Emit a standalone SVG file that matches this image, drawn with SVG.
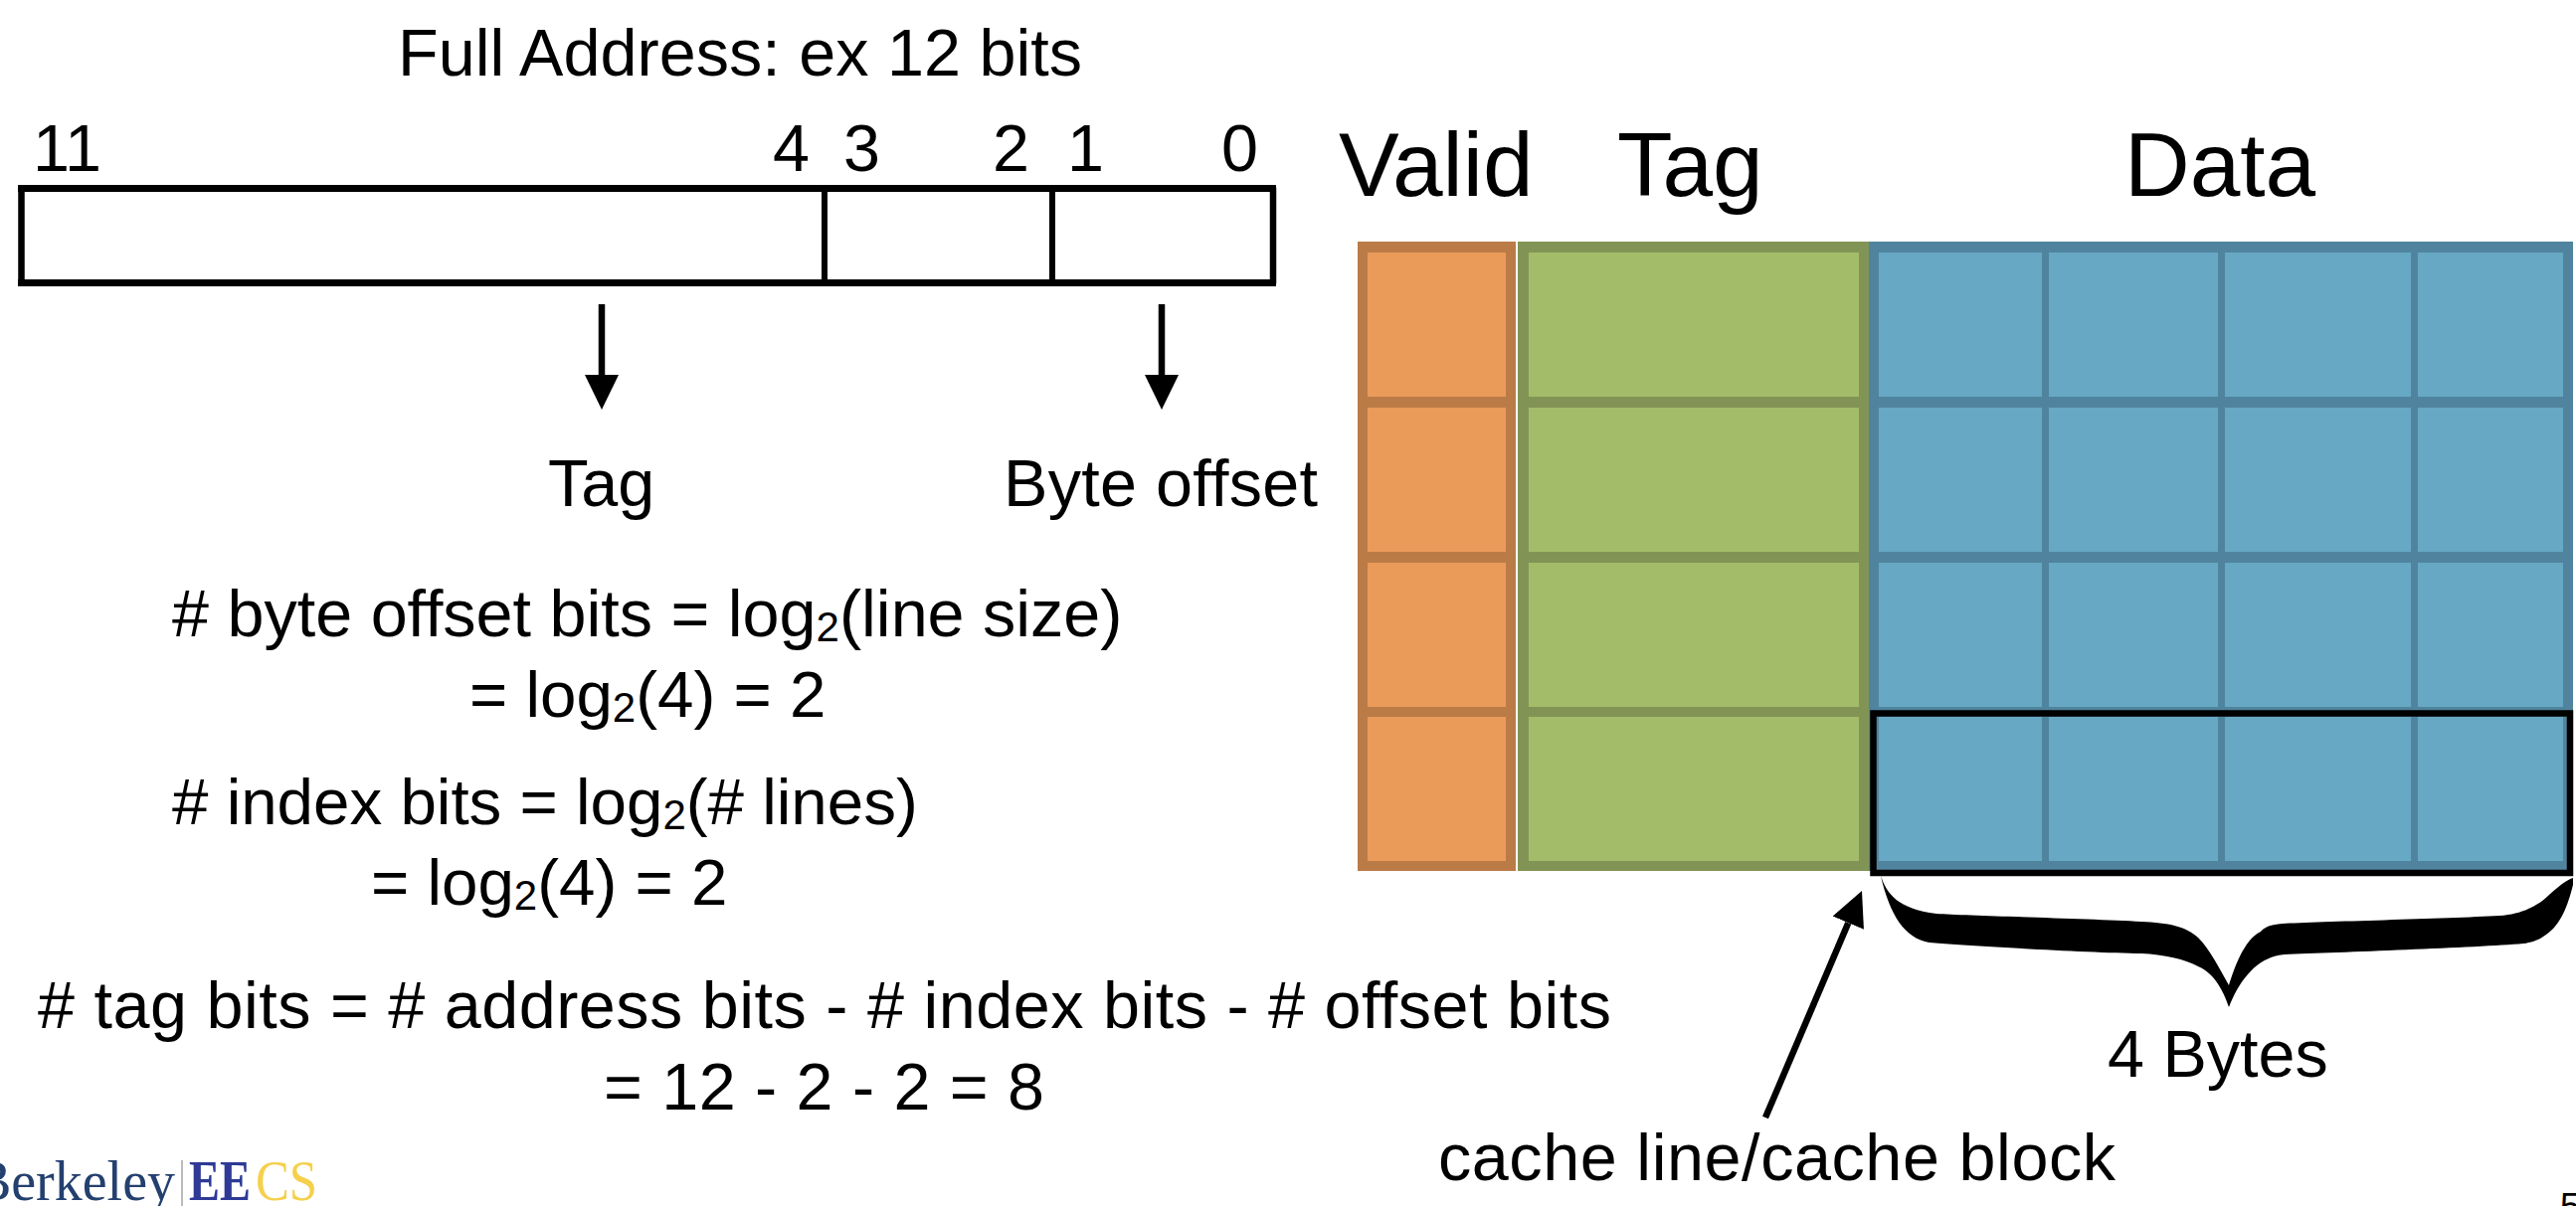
<svg xmlns="http://www.w3.org/2000/svg" width="2590" height="1213" viewBox="0 0 2590 1213">
<style>
text{font-family:"Liberation Sans",Arial,Helvetica,sans-serif;fill:#000}
.t{font-size:66.5px}
.f{font-size:65.5px}
.h{font-size:91px}
.s{font-size:42px}
.o0{fill:#bb7b47}.o1{fill:#ea9b5a}
.g0{fill:#829455}.g1{fill:#a3bc6a}
.b0{fill:#50849e}.b1{fill:#67a8c4}
.box{fill:none;stroke:#000;stroke-width:6.5}
.div{stroke:#000;stroke-width:6}
.arrow{stroke:#000;stroke-width:6.5;marker-end:url(#ah)}
.logo{font-family:"Liberation Serif",serif;font-size:56px}
</style>
<defs>
<marker id="ah" markerUnits="userSpaceOnUse" markerWidth="36" markerHeight="36" refX="0" refY="18" orient="auto"><path d="M0,1L35,18L0,35Z" fill="#000"/></marker>
<g id="oc"><rect x="1375" y="0" width="139" height="145" class="o1"/></g>
<g id="gc"><rect x="1537" y="0" width="332" height="145" class="g1"/></g>
<g id="bc"><rect x="1889" y="0" width="164" height="145" class="b1"/><rect x="2060" y="0" width="170" height="145" class="b1"/><rect x="2237" y="0" width="187" height="145" class="b1"/><rect x="2431" y="0" width="146" height="145" class="b1"/></g>
</defs>
<rect width="2590" height="1213" fill="#fff"/>
<g id="address-title"><text class="t" x="400" y="76" textLength="688">Full Address: ex 12 bits</text></g>
<g id="bit-numbers">
<text class="t" x="33" y="172">11</text>
<text class="t" x="777" y="172">4</text>
<text class="t" x="848" y="172">3</text>
<text class="t" x="998" y="172">2</text>
<text class="t" x="1073" y="172">1</text>
<text class="t" x="1228" y="172">0</text>
</g>
<g id="address-box">
<path class="box" d="M21.500 189.500H1280V284.500H21.500Z" stroke-linejoin="round"/>
<path class="box" d="M18 189.500H1283M18 284.500H1283" style="stroke-width:7"/>
<line class="div" x1="829" y1="193" x2="829" y2="283"/>
<line class="div" x1="1058" y1="193" x2="1058" y2="283"/>
</g>
<g id="connectors">
<line class="arrow" x1="605" y1="306" x2="605" y2="377"/>
<line class="arrow" x1="1168" y1="306" x2="1168" y2="377"/>
<line class="arrow" x1="1775" y1="1124" x2="1858.300" y2="928.200"/>
</g>
<g id="field-labels">
<text class="t" x="551" y="509">Tag</text>
<text class="t" x="1009" y="509" textLength="316">Byte offset</text>
</g>
<g id="formulas">
<text class="t" x="173" y="639.500"># byte offset bits = log<tspan class="s" dy="5">2</tspan><tspan dy="-5">(line size)</tspan></text>
<text class="f" x="472" y="720.500">= log<tspan class="s" dy="5">2</tspan><tspan dy="-5">(4) = 2</tspan></text>
<text class="f" x="173" y="829"># index bits = log<tspan class="s" dy="5">2</tspan><tspan dy="-5">(# lines)</tspan></text>
<text class="f" x="373" y="910">= log<tspan class="s" dy="5">2</tspan><tspan dy="-5">(4) = 2</tspan></text>
<text class="t" x="38" y="1034" textLength="1582"># tag bits = # address bits - # index bits - # offset bits</text>
<text class="t" x="607" y="1116" textLength="443">= 12 - 2 - 2 = 8</text>
</g>
<g id="cache-headers">
<text class="h" x="1346" y="197">Valid</text>
<text class="h" x="1626" y="197">Tag</text>
<text class="h" x="2136" y="197">Data</text>
</g>
<g id="valid-column">
<rect x="1365" y="243" width="159" height="633" class="o0"/>
<use href="#oc" y="254"/><use href="#oc" y="410"/><use href="#oc" y="566"/><use href="#oc" y="721"/>
</g>
<g id="tag-column">
<rect x="1526" y="243" width="353" height="633" class="g0"/>
<use href="#gc" y="254"/><use href="#gc" y="410"/><use href="#gc" y="566"/><use href="#gc" y="721"/>
</g>
<g id="data-column">
<rect x="1879" y="243" width="708" height="633" class="b0"/>
<use href="#bc" y="254"/><use href="#bc" y="410"/><use href="#bc" y="566"/><use href="#bc" y="721"/>
</g>
<g id="cache-line-highlight">
<rect class="box" x="1883.500" y="717.500" width="700.500" height="160.500"/>
</g>
<g id="brace">
<path fill="#000" d="M1891 881C1897 899 1908 914 1947 919C1980 921 2100 924 2153 927C2180 928 2198 932 2210 943C2222 955 2232 975 2241 991C2246 975 2256 945 2273 937C2279 931 2285 930 2295 929C2330 927 2460 924 2513 921C2540 919 2555 908 2563 900C2572 892 2580 885 2587 883L2587 890C2582 910 2575 930 2560 940C2552 946 2545 948 2537 949C2490 953 2350 958 2297 960C2270 962 2252 985 2241 1013C2235 995 2225 978 2210 972C2198 965 2175 960 2153 959C2100 958 1990 952 1940 948C1915 944 1900 920 1891 881Z"/>
</g>
<g id="callout-labels">
<text class="t" x="2119" y="1083">4 Bytes</text>
<text class="t" x="1446" y="1187" textLength="681">cache line/cache block</text>
</g>
<g id="logo">
<text class="logo" x="176" y="1207" text-anchor="end" style="fill:#24406f">Berkeley</text>
<line x1="183" y1="1167" x2="183" y2="1213" stroke="#bbb" stroke-width="2"/>
<text class="logo" x="190" y="1207" textLength="62" lengthAdjust="spacingAndGlyphs" style="font-weight:bold;fill:#2e3a96">EE</text>
<text class="logo" x="257" y="1207" textLength="62" lengthAdjust="spacingAndGlyphs" style="fill:#f5d04b">CS</text>
</g>
<g id="page-number"><text x="2574" y="1226" style="font-size:36px">5</text></g>
</svg>
